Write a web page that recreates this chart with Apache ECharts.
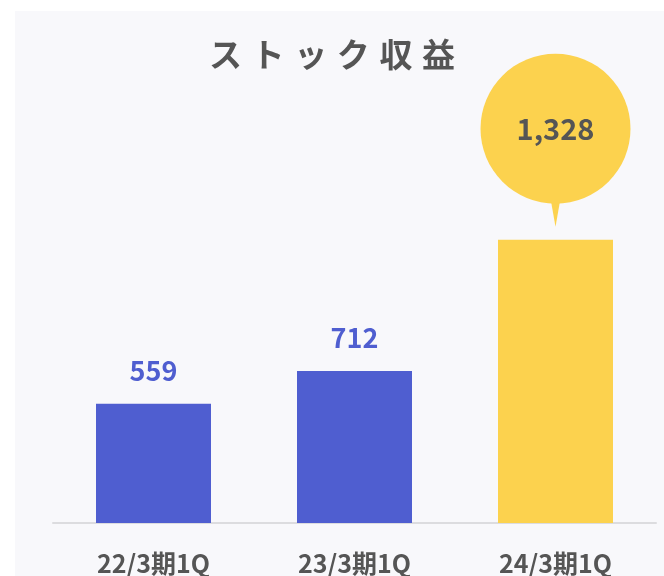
<!DOCTYPE html>
<html>
<head>
<meta charset="UTF-8">
<title>ストック収益</title>
<script src="https://cdn.jsdelivr.net/npm/echarts@6/dist/echarts.min.js"></script>
<style>
  html, body { margin: 0; padding: 0; background: #ffffff; }
  #chart { width: 664px; height: 576px; }
</style>
</head>
<body>
<div id="chart"></div>
<script>
  // data
  var titleText = 'ストック収益';
  var categories = ['22/3期1Q', '23/3期1Q', '24/3期1Q'];
  var values = [559, 712, 1328];
  var barColors = ['#4f5ed0', '#4f5ed0', '#fcd24e'];
  var highlightIndex = 2;   // the bar with the speech bubble

  var font = '"Noto Sans CJK JP", "Noto Sans", sans-serif';

  // spaced-out title: each character in its own rich segment with side padding
  var titleRich = titleText.split('').map(function (c) { return '{c|' + c + '}'; }).join('');

  var chart = echarts.init(document.getElementById('chart'), null, { renderer: 'canvas' });

  var hl = [categories[highlightIndex], values[highlightIndex]];

  chart.setOption({
    backgroundColor: '#ffffff',
    animation: false,
    graphic: [{
      type: 'rect',
      z: -10,
      silent: true,
      shape: { x: 15, y: 11, width: 649, height: 565 },
      style: { fill: '#f8f8fb' }
    }],
    title: {
      text: titleRich,
      left: 'center',
      top: 33,
      textStyle: {
        rich: {
          c: {
            fontFamily: font, fontSize: 33, fontWeight: 'bold', color: '#555555',
            padding: [0, 4.8, 0, 4.8]
          }
        }
      }
    },
    grid: { left: 53, right: 8, top: 203, bottom: 50, containLabel: false },
    xAxis: {
      type: 'category',
      data: categories,
      axisLine: { lineStyle: { color: '#dcdcdf', width: 2 } },
      axisTick: { show: false },
      axisLabel: {
        margin: 28,
        fontFamily: font, fontSize: 25, fontWeight: 'bold', color: '#555555'
      }
    },
    yAxis: {
      type: 'value',
      min: 0,
      max: 1500,
      show: false,
      splitLine: { show: false }
    },
    series: [{
      type: 'bar',
      barWidth: 115,
      data: values.map(function (v, i) {
        return {
          value: v,
          itemStyle: { color: barColors[i] },
          label: { show: i !== highlightIndex }
        };
      }),
      label: {
        position: 'top',
        distance: 20,
        fontFamily: font, fontSize: 27, fontWeight: 'bold', color: '#4f5ed0'
      },
      markPoint: {
        itemStyle: { color: '#fcd24e' },
        data: [
          {
            // pointer of the bubble
            coord: hl,
            symbol: 'triangle',
            symbolRotate: 180,
            symbolSize: [12, 34],
            symbolOffset: [0, -30],
            label: { show: false }
          },
          {
            coord: hl,
            value: values[highlightIndex],
            symbol: 'circle',
            symbolSize: 150,
            symbolOffset: [0, -111],
            label: {
              show: true,
              fontFamily: font, fontSize: 29, fontWeight: 'bold', color: '#555555',
              formatter: function (p) { return p.value.toLocaleString('en-US'); }
            }
          }
        ]
      }
    }]
  });
</script>
</body>
</html>
